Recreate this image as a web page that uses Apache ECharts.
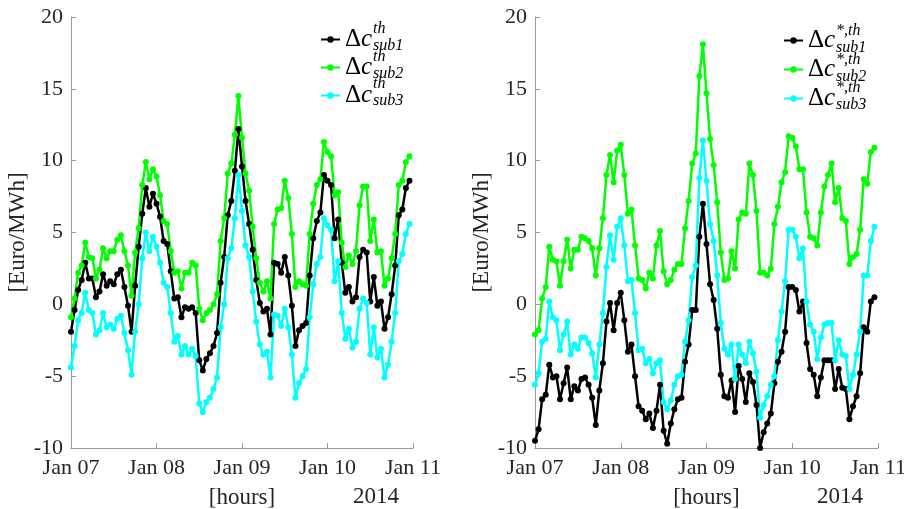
<!DOCTYPE html>
<html>
<head>
<meta charset="utf-8">
<style>
html, body { margin: 0; padding: 0; background: #fff; }
#main { width: 904px; height: 509px; }
</style>
<script src="https://cdn.jsdelivr.net/npm/echarts/dist/echarts.min.js"></script>
</head>
<body>
<div id="main"></div>
<script>
// day labels on the x axis (one tick every 24 hours)
var days = ['Jan 07', 'Jan 08', 'Jan 09', 'Jan 10', 'Jan 11'];

// left panel, hourly values from Jan 07 00:00
var thSub1 = [-1.9,-0.4,1.0,1.7,2.9,1.8,1.8,0.5,0.9,2.1, 1.3,1.6,1.4,2.1,2.4,1.2,-0.1,-1.9,1.3,4.0,
	6.3,8.1,6.8,7.7,7.0,6.1,4.4,4.2,2.3,0.4, 0.5,-0.9,-0.2,-0.3,-0.2,-0.6,-3.9,-4.6,-3.8,-3.4,
	-2.9,-2.0,1.5,3.3,6.2,7.2,9.3,12.2,9.6,7.2, 5.6,3.8,1.7,0.1,-0.5,-0.3,-2.1,2.9,2.8,2.2,
	3.3,2.0,-0.1,-2.9,-1.8,-1.5,-1.3,2.0,4.6,5.8, 6.4,9.0,8.6,8.3,4.6,5.9,2.9,0.8,1.2,0.2,
	0.5,3.3,3.8,3.6,0.2,1.9,-0.1,0.2,-1.7,-0.9, 0.7,2.7,6.2,6.6,8.1,8.6];
var thSub2 = [-0.9,0.4,2.2,2.7,4.3,3.3,3.2,1.8,2.4,3.9, 3.2,3.7,3.7,4.5,4.8,3.7,2.7,0.6,3.6,5.3,
	8.3,9.9,8.7,9.4,8.9,7.6,5.8,5.6,3.7,2.2, 2.3,1.1,2.2,2.2,2.9,2.7,-0.3,-1.1,-0.6,-0.4,
	0.0,0.7,4.4,6.0,9.1,9.8,11.8,14.5,11.6,9.1, 7.9,5.4,3.2,1.5,0.9,1.6,0.4,5.6,6.6,6.7,
	8.6,7.4,4.9,1.2,1.6,1.4,1.3,4.9,7.0,8.3, 8.7,11.3,10.6,10.3,7.6,7.8,4.3,2.6,3.4,2.8,
	3.7,6.9,8.2,8.2,4.4,5.9,3.6,3.7,1.3,1.8, 3.2,4.9,8.3,8.6,9.9,10.3];
var thSub3 = [-4.4,-2.9,-1.1,-0.6,0.8,-0.4,-0.6,-2.1,-1.8,-0.6, -1.6,-1.4,-1.7,-1.0,-0.8,-2.0,-3.2,-4.9,-1.9,0.0,
	3.2,5.0,3.7,4.7,4.0,2.9,1.5,1.2,-0.6,-2.6, -2.2,-3.5,-2.9,-3.5,-3.1,-3.6,-6.9,-7.5,-6.8,-6.5,
	-5.9,-5.1,-1.6,0.0,3.2,3.9,6.0,9.0,6.5,4.1, 3.3,0.9,-1.2,-2.8,-3.5,-3.3,-5.1,-0.7,-0.8,-1.5,
	-0.3,-1.6,-3.5,-6.5,-5.5,-5.0,-4.5,-0.9,1.4,2.8, 3.3,6.0,5.5,5.2,1.6,3.0,-0.6,-2.4,-1.7,-3.0,
	-2.6,-0.3,0.4,0.1,-3.5,-1.6,-3.7,-3.1,-5.1,-4.2, -2.6,-0.6,3.0,3.5,4.9,5.6];

// right panel (starred)
var stSub1 = [-9.5,-8.7,-6.6,-6.3,-4.2,-5.1,-5.0,-6.6,-5.5,-4.4, -6.6,-5.7,-6.0,-5.2,-5.1,-5.6,-6.5,-8.4,-6.0,-4.1,
	-1.2,0.1,-1.8,0.1,0.8,-1.1,-3.3,-2.8,-5.0,-7.1, -7.4,-8.0,-7.6,-8.6,-7.4,-5.6,-8.8,-9.7,-8.3,-7.3,
	-6.6,-6.5,-4.0,-2.8,-0.4,-0.4,4.7,7.0,4.2,1.4, 0.3,-1.7,-4.9,-6.4,-6.5,-5.3,-7.5,-4.3,-5.2,-6.8,
	-4.8,-5.4,-7.0,-10.0,-8.9,-8.3,-7.6,-5.5,-4.0,-3.3, -1.9,1.2,1.2,1.0,-0.5,0.2,-2.7,-4.5,-4.9,-6.4,
	-5.1,-3.9,-3.9,-3.9,-5.9,-4.5,-5.8,-5.9,-8.0,-7.1, -6.4,-4.8,-1.6,-1.9,0.2,0.5];
var stSub2 = [-2.1,-1.8,0.4,1.2,4.0,3.1,3.0,1.3,3.0,4.5, 2.5,3.8,3.8,4.7,4.6,4.4,3.9,2.0,3.9,6.0,
	9.0,10.4,8.5,10.7,11.1,9.0,6.3,6.6,4.1,1.8, 1.7,1.1,2.2,1.8,4.1,5.1,2.3,1.4,1.7,2.4,
	2.8,2.8,5.3,7.2,9.8,10.5,15.9,18.1,14.7,11.5, 9.7,7.1,3.6,1.7,1.8,3.7,2.5,5.9,6.4,6.3,
	9.8,9.0,6.5,2.2,2.2,2.0,2.5,5.6,6.8,8.5, 9.2,11.7,11.6,11.0,9.4,9.4,6.4,4.7,4.6,4.1,
	6.4,8.2,9.0,9.8,7.1,8.1,6.0,5.8,2.8,3.3, 3.5,5.2,8.7,8.4,10.6,10.9];
var stSub3 = [-5.6,-4.8,-2.6,-2.4,0.2,-0.9,-1.1,-3.2,-2.1,-1.2, -3.5,-2.8,-3.1,-2.3,-2.3,-2.7,-3.4,-5.1,-2.8,-0.6,
	2.6,4.8,3.1,5.4,6.0,4.1,1.6,1.7,-0.6,-3.2, -3.1,-4.1,-3.8,-4.8,-4.1,-3.9,-6.8,-7.3,-6.7,-5.6,
	-5.0,-4.9,-2.6,-1.1,1.9,2.7,8.8,11.4,8.6,5.6, 4.4,2.0,-1.3,-3.1,-3.5,-2.8,-5.2,-2.8,-3.5,-4.1,
	-2.6,-3.4,-4.7,-7.9,-7.0,-6.4,-5.6,-5.0,-2.5,-0.5, 1.6,5.2,5.2,4.7,3.2,3.9,0.2,-1.4,-1.9,-3.8,
	-2.3,-1.4,-1.3,-1.3,-3.9,-2.5,-3.5,-3.6,-5.9,-4.9, -3.5,-1.9,2.0,2.0,4.4,5.4];

var font = 'Liberation Serif';
var ink = '#262626';
var axisGray = '#9a9a9a';
var colors = ['#000000', '#00ff00', '#00ffff'];

function hourly(values) {
	return values.map(function (v, i) { return [i, v]; });
}

function makeX(g) {
	return {
		type: 'value', gridIndex: g, min: 0, max: 96, interval: 24,
		name: '[hours]', nameLocation: 'middle', nameGap: 38,
		nameTextStyle: { fontFamily: font, fontSize: 23, color: ink },
		axisLine: { onZero: false, lineStyle: { color: axisGray } },
		axisTick: { inside: true, length: 5, lineStyle: { color: axisGray } },
		axisLabel: {
			margin: 9, color: ink, fontFamily: font, fontSize: 22,
			formatter: function (v) { return days[v / 24]; }
		},
		splitLine: { show: false }
	};
}

function makeY(g) {
	return {
		type: 'value', gridIndex: g, min: -10, max: 20, interval: 5,
		name: '[Euro/MWh]', nameLocation: 'middle', nameGap: 38, nameRotate: 90,
		nameTextStyle: { fontFamily: font, fontSize: 23, color: ink },
		axisLine: { show: true, onZero: false, lineStyle: { color: axisGray } },
		axisTick: { show: true, inside: true, length: 5, lineStyle: { color: axisGray } },
		axisLabel: { margin: 8, color: ink, fontFamily: font, fontSize: 22 },
		splitLine: { show: false }
	};
}

function makeSeries(name, values, g, k) {
	return {
		name: name, type: 'line', xAxisIndex: g, yAxisIndex: g,
		data: hourly(values),
		symbol: 'circle', symbolSize: 6, showSymbol: true,
		lineStyle: { width: 2.5, color: colors[k] },
		itemStyle: { color: colors[k] },
		animation: false
	};
}

var legendRich = {
	d: { fontFamily: font, fontSize: 25, color: '#000' },
	c: { fontFamily: font, fontSize: 25, fontStyle: 'italic', color: '#000' }
};

function makeLegend(names, left, top, gap) {
	return {
		data: names, orient: 'vertical', left: left, top: top, padding: 0,
		itemWidth: 19, itemHeight: 8, itemGap: gap,
		formatter: function () { return '{d|\u0394}{c|c}'; },
		textStyle: { fontFamily: font, fontSize: 25, rich: legendRich },
		selectedMode: false
	};
}

function script(text, x, y) {
	return {
		type: 'text', left: x, top: y,
		style: { text: text, font: 'italic 16px "Liberation Serif"', fill: '#000' }
	};
}

var myChart = echarts.init(document.getElementById('main'));
var option = {
	animation: false,
	grid: [
		{ left: 71, top: 17, width: 342, height: 431, outerBoundsMode: 'none' },
		{ left: 535, top: 17, width: 343, height: 431, outerBoundsMode: 'none' }
	],
	xAxis: [makeX(0), makeX(1)],
	yAxis: [makeY(0), makeY(1)],
	legend: [
		makeLegend(['sub1', 'sub2', 'sub3'], 320, 27, 3),
		makeLegend(['sub1*', 'sub2*', 'sub3*'], 783, 28, 4)
	],
	graphic: [
		script('th', 373, 21), script('sub1', 373, 38),
		script('th', 373, 48.5), script('sub2', 373, 65.5),
		script('th', 373, 76), script('sub3', 373, 93),
		script('*,th', 836, 23), script('sub1', 836, 40),
		script('*,th', 836, 51.5), script('sub2', 836, 68.5),
		script('*,th', 836, 80), script('sub3', 836, 97),
		{ type: 'text', left: 353, top: 485, style: { text: '2014', font: '23px "Liberation Serif"', fill: ink } },
		{ type: 'text', left: 817, top: 485, style: { text: '2014', font: '23px "Liberation Serif"', fill: ink } }
	],
	series: [
		makeSeries('sub1', thSub1, 0, 0),
		makeSeries('sub2', thSub2, 0, 1),
		makeSeries('sub3', thSub3, 0, 2),
		makeSeries('sub1*', stSub1, 1, 0),
		makeSeries('sub2*', stSub2, 1, 1),
		makeSeries('sub3*', stSub3, 1, 2)
	]
};
myChart.setOption(option);
</script>
</body>
</html>
